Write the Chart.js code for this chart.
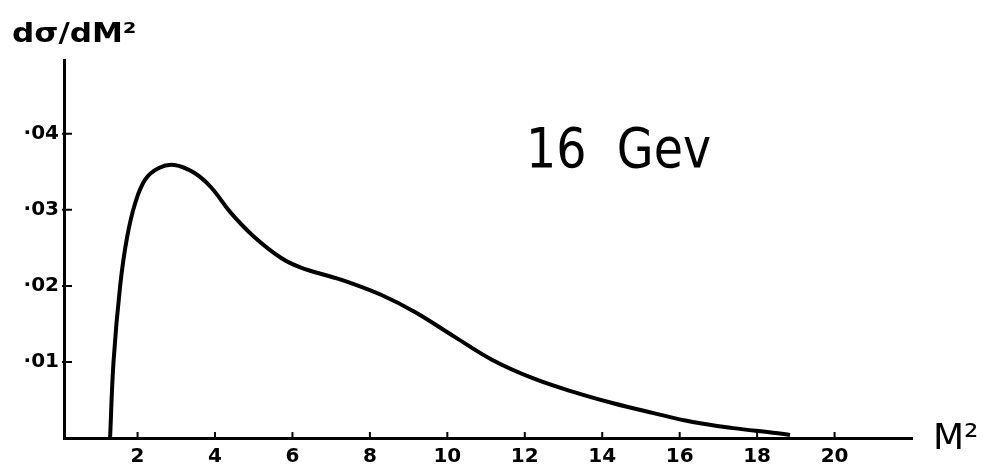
<!DOCTYPE html>
<html>
<head>
<meta charset="utf-8">
<script src="https://cdn.jsdelivr.net/npm/chart.js@4.4.1/dist/chart.umd.min.js"></script>
<style>
body{margin:0;background:#fff}
#wrap{width:986px;height:469px;position:relative}
</style>
</head>
<body>
<div id="wrap"><canvas id="chart"></canvas></div>
<script>
// M^2 values and d sigma / dM^2
const m2=[1.29,1.38,1.55,1.73,1.94,2.2,2.55,2.95,3.45,3.89,4.41,5.0,5.7,6.22,7.0,7.44,8.3,9.15,10.19,11.15,12.19,13.23,14.26,15.3,16.34,17.38,18.41,18.85];
const dsig=[0,0.0101,0.02,0.0264,0.0309,0.034,0.0355,0.0359,0.0349,0.033,0.0296,0.0265,0.0237,0.0224,0.0212,0.0205,0.0188,0.0166,0.0133,0.0103,0.0079,0.0061,0.0046,0.0033,0.0021,0.0013,0.0007,0.0004];
const xTicks=[2,4,6,8,10,12,14,16,18,20];
const yTicks=[0.01,0.02,0.03,0.04];
const yTickLabels=["·01","·02","·03","·04"];

const tickFont={family:"DejaVu Sans",size:20,weight:"bold"};

// small inward tick marks + hand written labels
const extras={
id:"extras",
afterDraw(c){
const ctx=c.ctx,xs=c.scales.x,ys=c.scales.y;
ctx.save();
ctx.strokeStyle="#000";ctx.lineWidth=2;
ctx.beginPath();
xs.ticks.forEach(t=>{let px=xs.getPixelForValue(t.value);ctx.moveTo(px,ys.bottom);ctx.lineTo(px,ys.bottom-6);});
ys.ticks.forEach(t=>{let py=ys.getPixelForValue(t.value);ctx.moveTo(xs.left-2,py);ctx.lineTo(xs.left+8,py);});
ctx.stroke();

ctx.fillStyle="#000";ctx.textBaseline="alphabetic";ctx.textAlign="left";
// y label
ctx.save();ctx.translate(12,42);ctx.scale(1.15,1);
ctx.font="bold 27px 'DejaVu Sans'";ctx.fillText("dσ/dM²",0,0);ctx.restore();
// energy label
ctx.save();ctx.translate(526,167);ctx.scale(0.85,1);
ctx.font="56px 'DejaVu Sans'";ctx.fillText("16  Gev",0,0);ctx.restore();
// x label
ctx.font="36px 'DejaVu Sans'";ctx.fillText("M²",933,449);
ctx.restore();
}
};

new Chart(document.getElementById("chart"),{
type:"scatter",
data:{datasets:[{
data:m2.map((v,i)=>({x:v,y:dsig[i]})),
showLine:true,
borderColor:"#000",
borderWidth:4,
pointRadius:0,
tension:0.4
}]},
options:{
responsive:true,
maintainAspectRatio:false,
animation:false,
layout:{padding:{left:0,top:60,right:74,bottom:0}},
plugins:{legend:{display:false},tooltip:{enabled:false}},
scales:{
x:{
type:"linear",min:0.1,max:22,
afterBuildTicks:s=>{s.ticks=xTicks.map(v=>({value:v}));},
afterFit:s=>{s.height=31;},
grid:{drawOnChartArea:false,drawTicks:false},
border:{display:true,color:"#000",width:3},
ticks:{color:"#000",font:tickFont,padding:7,maxRotation:0,autoSkip:false,callback:v=>String(v)}
},
y:{
type:"linear",min:0,max:0.0497,
afterBuildTicks:s=>{s.ticks=yTicks.map(v=>({value:v}));},
afterFit:s=>{s.width=64;},
grid:{drawOnChartArea:false,drawTicks:false},
border:{display:true,color:"#000",width:3},
ticks:{color:"#000",font:tickFont,padding:5,autoSkip:false,callback:v=>yTickLabels[yTicks.indexOf(v)]}
}
}
},
plugins:[extras]
});
</script>
</body>
</html>
